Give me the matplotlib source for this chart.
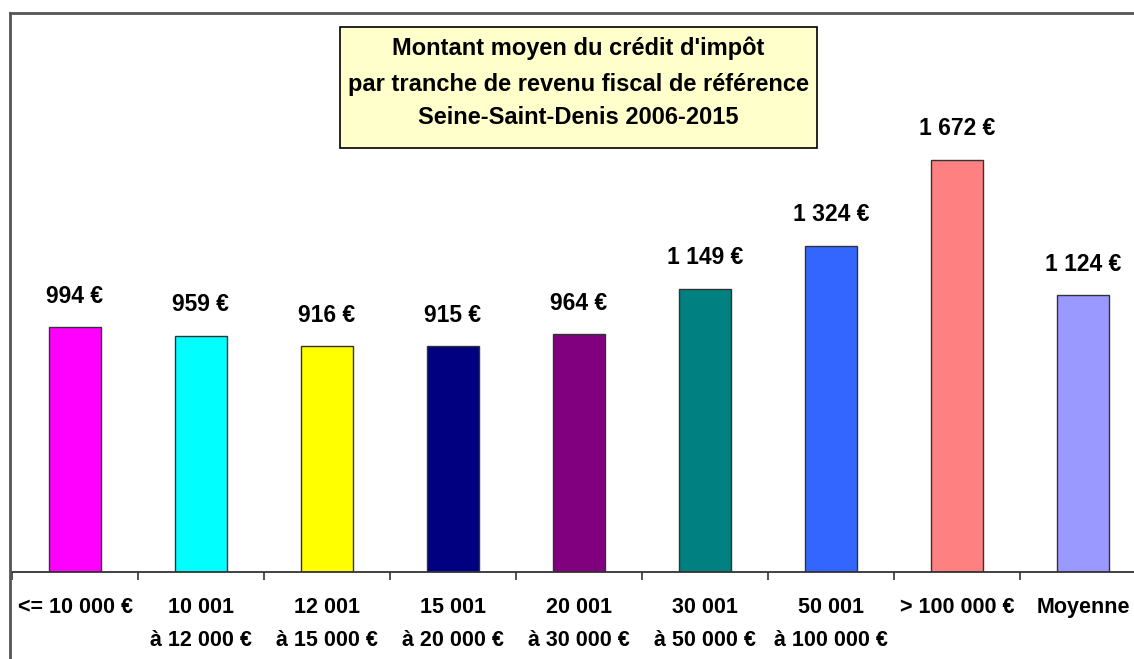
import matplotlib
matplotlib.use("Agg")
import matplotlib.pyplot as plt
from matplotlib.lines import Line2D
from matplotlib.patches import Rectangle

FONT = ['Liberation Sans Narrow', 'Liberation Sans', 'DejaVu Sans']
plt.rcParams['font.family'] = FONT
plt.rcParams['font.weight'] = 'bold'

categories = ["<= 10 000 €", "10 001\nà 12 000 €", "12 001\nà 15 000 €",
              "15 001\nà 20 000 €", "20 001\nà 30 000 €", "30 001\nà 50 000 €",
              "50 001\nà 100 000 €", "> 100 000 €", "Moyenne"]
values = [994, 959, 916, 915, 964, 1149, 1324, 1672, 1124]
colors = ["#FF00FF", "#00FFFF", "#FFFF00", "#000080", "#800080",
          "#008080", "#3366FF", "#FF8080", "#9999FF"]
title_lines = ["Montant moyen du crédit d'impôt",
               "par tranche de revenu fiscal de référence",
               "Seine-Saint-Denis 2006-2015"]

W, H = 1134, 659
fig = plt.figure(figsize=(W / 100, H / 100), dpi=100)
ax = fig.add_axes([12/W, 87/H, 1.0, 559/H])

x = range(len(values))
bars = ax.bar(x, values, width=0.41, color=colors, edgecolor="#333333", linewidth=1)

for b, v in zip(bars, values):
    lab = f"{v:,}".replace(",", " ") + " €"
    ax.annotate(lab, (b.get_x() + b.get_width() / 2, v), xytext=(0, 14),
                textcoords="offset points", ha="center", va="bottom",
                fontsize=16.5, fontweight="bold")

ax.set_xlim(-0.5, 8.5)
ax.set_ylim(0, 2268)
for s in ["top", "right", "left"]:
    ax.spines[s].set_visible(False)
ax.spines["bottom"].set_color("#333333")
ax.spines["bottom"].set_linewidth(1.3)
ax.set_yticks([])

ax.set_xticks(list(x))
ax.set_xticklabels(categories, fontsize=15.5, fontweight="bold", linespacing=1.75)
ax.tick_params(axis="x", which="major", length=0, pad=18)
ax.set_xticks([i - 0.5 for i in range(len(values) + 1)], minor=True)
ax.tick_params(axis="x", which="minor", length=6, width=1.2, color="#333333")

# title box
fig.add_artist(Rectangle((340/W, 1 - 148/H), 477/W, 121/H, transform=fig.transFigure,
                         facecolor="#FFFFCC", edgecolor="black", linewidth=1.2))
for line, yp in zip(title_lines, [48, 85, 118]):
    fig.text(578/W, 1 - yp/H, line, ha="center", va="center",
             fontsize=17, fontweight="bold")

# frame around the chart area
fig.add_artist(Line2D([10/W, 1.0], [1 - 13/H, 1 - 13/H], color="#555555", lw=2))
fig.add_artist(Line2D([10/W, 10/W], [0, 1 - 13/H], color="#555555", lw=2))

fig.savefig("out.png", dpi=100)
